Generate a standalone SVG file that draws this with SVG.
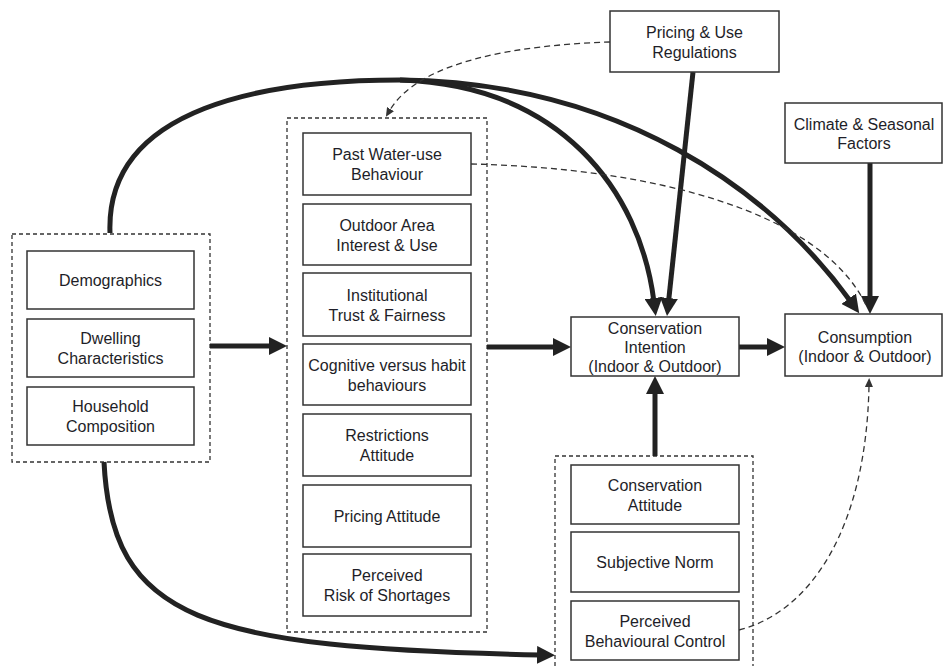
<svg xmlns="http://www.w3.org/2000/svg" width="943" height="666" viewBox="0 0 943 666">
<style>
.box{fill:#fff;stroke:#333;stroke-width:1.5}
.grp{fill:none;stroke:#333;stroke-width:1.3;stroke-dasharray:4 3}
.t{font-family:"Liberation Sans",Arial,sans-serif;font-size:16px;fill:#1e1e28;text-anchor:middle}
.thick{fill:none;stroke:#222;stroke-width:5}
.dash{fill:none;stroke:#333;stroke-width:1.3;stroke-dasharray:6 4}
</style>
<defs>
<marker id="ah" markerUnits="userSpaceOnUse" markerWidth="18" markerHeight="18" refX="4" refY="9" orient="auto"><path d="M0,0 L18,9 L0,18 z" fill="#222"/></marker>
<marker id="sah" markerUnits="userSpaceOnUse" markerWidth="9" markerHeight="8" refX="1" refY="4" orient="auto"><path d="M0,0 L9,4 L0,8 z" fill="#333"/></marker>
</defs>
<rect width="943" height="666" fill="#fff"/>

<g id="group-left"><rect class="grp" x="12" y="234" width="198" height="228"/></g>
<g id="group-middle"><rect class="grp" x="287" y="118" width="200" height="514"/></g>
<g id="group-right"><rect class="grp" x="555" y="456" width="198" height="215"/></g>

<g id="connectors">
<path class="thick" d="M110,233 C105,105 270,80 400,80"/>
<path class="thick" d="M400,80 C560,85 640,190 654,302" marker-end="url(#ah)"/>
<path class="thick" d="M400,80 C620,82 770,190 851,302" marker-end="url(#ah)"/>
<path class="thick" d="M104,462 C112,620 200,648 541,655" marker-end="url(#ah)"/>
<path class="thick" d="M210,346 L273,346" marker-end="url(#ah)"/>
<path class="thick" d="M487,347 L557,347" marker-end="url(#ah)"/>
<path class="thick" d="M739,347 L771,347" marker-end="url(#ah)"/>
<path class="thick" d="M655,456 L655,390" marker-end="url(#ah)"/>
<path class="thick" d="M693,72 L668.5,302" marker-end="url(#ah)"/>
<path class="thick" d="M870,163 L870,300" marker-end="url(#ah)"/>
<path class="dash" d="M610,42 C520,45 420,60 390,110" marker-end="url(#sah)"/>
<path class="dash" d="M471,164 C650,168 820,210 866,305"/>
<path class="dash" d="M739,630 C810,612 866,530 869,386" marker-end="url(#sah)"/>
</g>

<g id="demographics"><rect class="box" x="27" y="251" width="167" height="58"/><text class="t" x="110.5" y="285.5">Demographics</text></g>
<g id="dwelling"><rect class="box" x="27" y="319" width="167" height="58"/><text class="t" x="110.5" y="344">Dwelling</text><text class="t" x="110.5" y="364">Characteristics</text></g>
<g id="household"><rect class="box" x="27" y="387" width="167" height="58"/><text class="t" x="110.5" y="412">Household</text><text class="t" x="110.5" y="432">Composition</text></g>

<g id="past-water"><rect class="box" x="303" y="133" width="168" height="62"/><text class="t" x="387" y="160">Past Water-use</text><text class="t" x="387" y="180">Behaviour</text></g>
<g id="outdoor"><rect class="box" x="303" y="204" width="168" height="61"/><text class="t" x="387" y="230.5">Outdoor Area</text><text class="t" x="387" y="250.5">Interest &amp; Use</text></g>
<g id="institutional"><rect class="box" x="303" y="273" width="168" height="63"/><text class="t" x="387" y="300.5">Institutional</text><text class="t" x="387" y="320.5">Trust &amp; Fairness</text></g>
<g id="cognitive"><rect class="box" x="303" y="344" width="168" height="61"/><text class="t" x="387" y="370.5">Cognitive versus habit</text><text class="t" x="387" y="390.5">behaviours</text></g>
<g id="restrictions"><rect class="box" x="303" y="414" width="168" height="62"/><text class="t" x="387" y="441">Restrictions</text><text class="t" x="387" y="461">Attitude</text></g>
<g id="pricing-attitude"><rect class="box" x="303" y="485" width="168" height="62"/><text class="t" x="387" y="521.5">Pricing Attitude</text></g>
<g id="risk"><rect class="box" x="303" y="554" width="168" height="62"/><text class="t" x="387" y="581">Perceived</text><text class="t" x="387" y="601">Risk of Shortages</text></g>

<g id="pricing-regs"><rect class="box" x="610" y="11" width="169" height="61"/><text class="t" x="694.5" y="37.5">Pricing &amp; Use</text><text class="t" x="694.5" y="57.5">Regulations</text></g>
<g id="climate"><rect class="box" x="785" y="103" width="157" height="60"/><text class="t" x="864" y="130">Climate &amp; Seasonal</text><text class="t" x="864" y="149">Factors</text></g>
<g id="intention"><rect class="box" x="571" y="317" width="168" height="59"/><text class="t" x="655" y="334">Conservation</text><text class="t" x="655" y="353">Intention</text><text class="t" x="655" y="372">(Indoor &amp; Outdoor)</text></g>
<g id="consumption"><rect class="box" x="785" y="314" width="157" height="62"/><text class="t" x="865" y="343">Consumption</text><text class="t" x="865" y="362">(Indoor &amp; Outdoor)</text></g>

<g id="cons-attitude"><rect class="box" x="571" y="465" width="168" height="59"/><text class="t" x="655" y="490.5">Conservation</text><text class="t" x="655" y="510.5">Attitude</text></g>
<g id="subjective"><rect class="box" x="571" y="532" width="168" height="60"/><text class="t" x="655" y="567.5">Subjective Norm</text></g>
<g id="pbc"><rect class="box" x="571" y="601" width="168" height="59"/><text class="t" x="655" y="626.5">Perceived</text><text class="t" x="655" y="646.5">Behavioural Control</text></g>
</svg>
